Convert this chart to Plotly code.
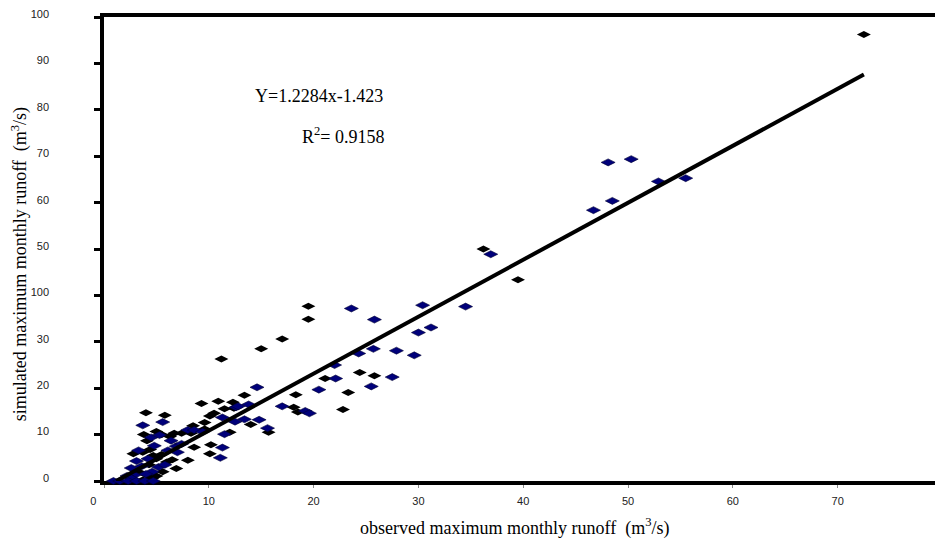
import plotly.graph_objects as go

# ---- data ----
black_x = [72.5, 36.2, 39.5, 19.5, 19.5, 17.0, 15.0, 11.2, 24.4, 25.8, 21.1, 23.3, 22.8,
           18.3, 13.4, 18.1, 18.5, 9.3, 10.9, 12.3, 11.5, 10.1, 14.0, 8.5, 9.6, 15.7, 12.0,
           4.0, 5.8, 10.5, 9.6, 3.8, 5.0, 5.5, 6.7, 4.1, 8.3, 8.6, 10.2, 10.1, 2.8, 3.7,
           4.7, 5.5, 5.0, 6.0, 8.0, 6.9, 5.0, 4.1, 3.7, 4.4, 6.3, 7.4, 4.3, 3.3, 5.6, 4.6,
           12.4, 6.5]
black_y = [96.3, 50.0, 43.4, 37.7, 34.9, 30.6, 28.5, 26.3, 23.4, 22.7, 22.1, 19.1, 15.4,
           18.6, 18.5, 15.9, 14.9, 16.7, 17.2, 17.0, 15.6, 14.0, 12.2, 11.9, 11.2, 10.5, 10.5,
           14.7, 14.2, 14.6, 12.6, 10.0, 10.7, 10.0, 10.3, 8.7, 10.3, 7.3, 7.8, 5.9, 5.9, 6.2,
           5.5, 5.7, 4.8, 4.1, 4.5, 2.7, 1.1, 1.3, 0.2, 6.8, 9.6, 10.3, 3.5, 2.0, 2.0, 0.6,
           15.7, 4.6]

blue_x = [48.1, 50.3, 52.9, 55.5, 48.5, 46.7, 36.9, 23.6, 25.8, 30.4, 34.5, 30.0, 31.2,
          25.7, 24.3, 27.9, 29.6, 22.0, 22.1, 27.5, 25.5, 20.5, 14.6, 17.0, 19.2, 19.6,
          12.6, 13.8, 11.3, 13.4, 14.8, 12.5, 8.0, 15.6, 11.5, 3.7, 5.6, 12.8, 4.5, 4.8,
          8.6, 11.3, 11.1, 6.9, 3.3, 6.1, 3.1, 2.6, 5.2, 5.8, 2.9, 2.2, 2.6, 0.9, 1.5,
          2.3, 3.1, 3.9, 4.7, 7.4, 9.4, 6.4, 5.3, 7.0, 4.2, 3.6, 4.6, 4.0]
blue_y = [68.7, 69.4, 64.6, 65.3, 60.4, 58.4, 48.9, 37.2, 34.8, 37.9, 37.6, 32.0, 33.1,
          28.5, 27.5, 28.1, 27.1, 25.0, 22.1, 22.4, 20.4, 19.7, 20.2, 16.1, 15.1, 14.6,
          15.9, 16.5, 13.7, 13.3, 13.2, 12.8, 11.0, 11.4, 10.1, 12.0, 12.7, 16.1, 9.4, 7.6,
          11.0, 7.2, 5.0, 7.5, 6.6, 6.6, 4.3, 2.8, 3.0, 3.5, 1.3, 1.1, 0.6, 0.0, 0.0,
          0.0, 0.0, 0.0, 0.0, 8.0, 10.6, 8.7, 9.9, 6.2, 4.8, 3.2, 2.0, 1.5]

slope = 1.2284
intercept = -1.423
trend_x = [1.16, 72.5]
trend_y = [slope * v + intercept for v in trend_x]

y_tickvals = [0, 10, 20, 30, 40, 50, 60, 70, 80, 90, 100]
y_ticktext = ["0", "10", "20", "30", "100", "50", "60", "70", "80", "90", "100"]
x_tickvals = [0, 10, 20, 30, 40, 50, 60, 70, 80]
x_ticktext = ["0", "10", "20", "30", "40", "50", "60", "70", "80"]

NB = "\u00a0"
y_ticktext_padded = [t + NB * 14 for t in y_ticktext]
x_ticktext_padded = [x_ticktext[0] + NB * 7] + x_ticktext[1:]

fig = go.Figure()
fig.add_trace(go.Scatter(x=black_x, y=black_y, mode="markers", cliponaxis=False,
                         marker=dict(symbol="diamond-wide", size=10, color="#000000",
                                     line=dict(width=0)), showlegend=False))
fig.add_trace(go.Scatter(x=blue_x, y=blue_y, mode="markers", cliponaxis=False,
                         marker=dict(symbol="diamond-wide", size=10, color="#00007a",
                                     line=dict(width=0.6, color="#000033")), showlegend=False))
fig.add_trace(go.Scatter(x=trend_x, y=trend_y, mode="lines",
                         line=dict(color="#000000", width=4), showlegend=False))

fig.update_layout(
    width=935, height=536,
    margin=dict(l=96, r=0, t=2, b=63),
    plot_bgcolor="white", paper_bgcolor="white",
    font=dict(family="Liberation Serif", color="#000000"),
    xaxis=dict(range=[0, 80.05], tickvals=x_tickvals, ticktext=x_ticktext_padded,
               showgrid=False, zeroline=False,
               showline=True, linewidth=4, linecolor="#000000", mirror=True,
               ticks="outside", ticklen=3, tickwidth=1, tickcolor="#888888",
               tickfont=dict(family="Liberation Sans", size=11, color="#222222"),
               ticklabelstandoff=4, layer="below traces"),
    yaxis=dict(range=[0, 100.05], tickvals=y_tickvals, ticktext=y_ticktext_padded, showgrid=False,
               zeroline=False, showline=True, linewidth=4, linecolor="#000000",
               ticks="outside", ticklen=6, tickwidth=3, tickcolor="#000000",
               tickfont=dict(family="Liberation Sans", size=11, color="#222222"),
               ticklabelshift=-3, ticklabeloverflow="allow", layer="below traces"),
    annotations=[
        dict(x=20.5, y=83.0, xref="x", yref="y", xanchor="center", yanchor="middle",
             text="Y=1.2284x-1.423", showarrow=False,
             font=dict(family="Liberation Serif", size=18, color="#000000")),
        dict(x=22.8, y=74.5, xref="x", yref="y", xanchor="center", yanchor="middle",
             text="R<sup>2</sup>= 0.9158", showarrow=False,
             font=dict(family="Liberation Serif", size=18, color="#000000")),
        dict(x=0.4887, y=-0.0998, xref="paper", yref="paper", xanchor="center", yanchor="middle",
             text="observed maximum monthly runoff  (m<sup>3</sup>/s)", showarrow=False,
             font=dict(family="Liberation Serif", size=18, color="#000000")),
        dict(x=-0.1001, y=0.467, xref="paper", yref="paper", xanchor="center", yanchor="middle",
             textangle=-90,
             text="simulated maximum monthly runoff  (m<sup>3</sup>/s)", showarrow=False,
             font=dict(family="Liberation Serif", size=18, color="#000000")),
    ],
)

fig.write_html("out.html")
